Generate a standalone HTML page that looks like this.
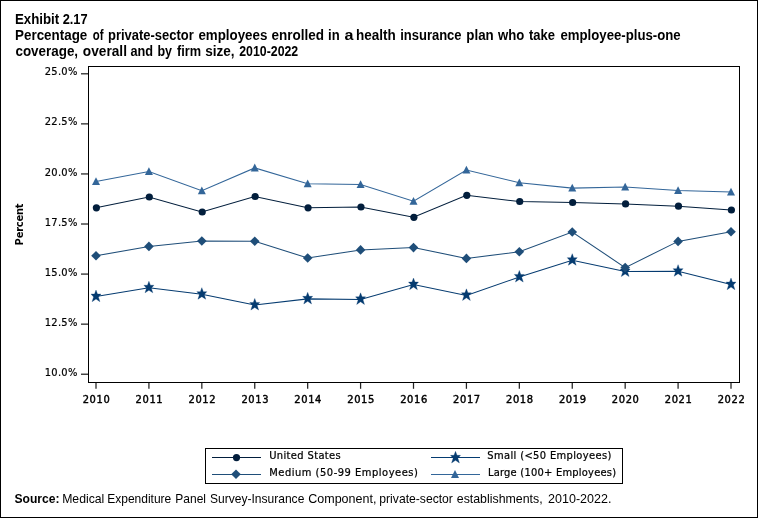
<!DOCTYPE html>
<html lang="en"><head><meta charset="utf-8"><title>Exhibit 2.17</title>
<style>
html,body{margin:0;padding:0;background:#fff}
body{width:758px;height:518px;position:relative;overflow:hidden;font-family:"Liberation Sans",sans-serif;color:#000}
.frame{position:absolute;left:0;top:0;width:756px;height:516px;border:1px solid #000}
svg text{fill:#000;font-kerning:none}
.tt{font:bold 14px "Liberation Sans",sans-serif}
.st{font:13px "Liberation Sans",sans-serif}
.yt{font:11px "DejaVu Sans Condensed","DejaVu Sans",sans-serif;letter-spacing:0.28px;stroke:#000;stroke-width:0.2px}
.xt{font:11px "DejaVu Sans Condensed","DejaVu Sans",sans-serif;letter-spacing:0.6px;stroke:#000;stroke-width:0.42px}
.yl{font:bold 11px "DejaVu Sans Condensed","DejaVu Sans",sans-serif;letter-spacing:-0.2px}
.lg{font:11px "DejaVu Sans Condensed","DejaVu Sans",sans-serif;stroke:#000;stroke-width:0.22px}
</style></head><body>
<div class="frame"></div>

<svg width="758" height="518" viewBox="0 0 758 518" style="position:absolute;left:0;top:0">
<rect x="88.5" y="66.5" width="651" height="316" fill="none" stroke="#000" stroke-width="1" shape-rendering="crispEdges"/>
<line x1="81" y1="73.80" x2="88" y2="73.80" stroke="#222" stroke-width="1.25"/>
<text x="77.6" y="75" text-anchor="end" class="yt">25.0%</text>
<line x1="81" y1="123.87" x2="88" y2="123.87" stroke="#222" stroke-width="1.25"/>
<text x="77.6" y="125" text-anchor="end" class="yt">22.5%</text>
<line x1="81" y1="173.94" x2="88" y2="173.94" stroke="#222" stroke-width="1.25"/>
<text x="77.6" y="176" text-anchor="end" class="yt">20.0%</text>
<line x1="81" y1="224.01" x2="88" y2="224.01" stroke="#222" stroke-width="1.25"/>
<text x="77.6" y="226" text-anchor="end" class="yt">17.5%</text>
<line x1="81" y1="274.08" x2="88" y2="274.08" stroke="#222" stroke-width="1.25"/>
<text x="77.6" y="276" text-anchor="end" class="yt">15.0%</text>
<line x1="81" y1="324.15" x2="88" y2="324.15" stroke="#222" stroke-width="1.25"/>
<text x="77.6" y="326" text-anchor="end" class="yt">12.5%</text>
<line x1="81" y1="374.22" x2="88" y2="374.22" stroke="#222" stroke-width="1.25"/>
<text x="77.6" y="376" text-anchor="end" class="yt">10.0%</text>
<line x1="96.00" y1="383" x2="96.00" y2="388.8" stroke="#222" stroke-width="1.25"/>
<text x="96.50" y="402.8" text-anchor="middle" class="xt">2010</text>
<line x1="148.92" y1="383" x2="148.92" y2="388.8" stroke="#222" stroke-width="1.25"/>
<text x="149.42" y="402.8" text-anchor="middle" class="xt">2011</text>
<line x1="201.83" y1="383" x2="201.83" y2="388.8" stroke="#222" stroke-width="1.25"/>
<text x="202.33" y="402.8" text-anchor="middle" class="xt">2012</text>
<line x1="254.75" y1="383" x2="254.75" y2="388.8" stroke="#222" stroke-width="1.25"/>
<text x="255.25" y="402.8" text-anchor="middle" class="xt">2013</text>
<line x1="307.67" y1="383" x2="307.67" y2="388.8" stroke="#222" stroke-width="1.25"/>
<text x="308.17" y="402.8" text-anchor="middle" class="xt">2014</text>
<line x1="360.58" y1="383" x2="360.58" y2="388.8" stroke="#222" stroke-width="1.25"/>
<text x="361.08" y="402.8" text-anchor="middle" class="xt">2015</text>
<line x1="413.50" y1="383" x2="413.50" y2="388.8" stroke="#222" stroke-width="1.25"/>
<text x="414.00" y="402.8" text-anchor="middle" class="xt">2016</text>
<line x1="466.42" y1="383" x2="466.42" y2="388.8" stroke="#222" stroke-width="1.25"/>
<text x="466.92" y="402.8" text-anchor="middle" class="xt">2017</text>
<line x1="519.33" y1="383" x2="519.33" y2="388.8" stroke="#222" stroke-width="1.25"/>
<text x="519.83" y="402.8" text-anchor="middle" class="xt">2018</text>
<line x1="572.25" y1="383" x2="572.25" y2="388.8" stroke="#222" stroke-width="1.25"/>
<text x="572.75" y="402.8" text-anchor="middle" class="xt">2019</text>
<line x1="625.17" y1="383" x2="625.17" y2="388.8" stroke="#222" stroke-width="1.25"/>
<text x="625.67" y="402.8" text-anchor="middle" class="xt">2020</text>
<line x1="678.08" y1="383" x2="678.08" y2="388.8" stroke="#222" stroke-width="1.25"/>
<text x="678.58" y="402.8" text-anchor="middle" class="xt">2021</text>
<line x1="731.00" y1="383" x2="731.00" y2="388.8" stroke="#222" stroke-width="1.25"/>
<text x="731.50" y="402.8" text-anchor="middle" class="xt">2022</text>
<text transform="translate(23.3 224.5) rotate(-90)" text-anchor="middle" class="yl">Percent</text>
<polyline points="96.00,207.80 148.92,197.00 201.83,212.00 254.75,196.50 307.67,207.80 360.58,207.00 413.50,217.30 466.42,195.30 519.33,201.50 572.25,202.50 625.17,203.90 678.08,206.20 731.00,210.00" fill="none" stroke="#021E3C" stroke-width="1.05"/>
<circle cx="96.40" cy="207.80" r="3.6" fill="#021E3C"/>
<circle cx="149.32" cy="197.00" r="3.6" fill="#021E3C"/>
<circle cx="202.23" cy="212.00" r="3.6" fill="#021E3C"/>
<circle cx="255.15" cy="196.50" r="3.6" fill="#021E3C"/>
<circle cx="308.07" cy="207.80" r="3.6" fill="#021E3C"/>
<circle cx="360.98" cy="207.00" r="3.6" fill="#021E3C"/>
<circle cx="413.90" cy="217.30" r="3.6" fill="#021E3C"/>
<circle cx="466.82" cy="195.30" r="3.6" fill="#021E3C"/>
<circle cx="519.73" cy="201.50" r="3.6" fill="#021E3C"/>
<circle cx="572.65" cy="202.50" r="3.6" fill="#021E3C"/>
<circle cx="625.57" cy="203.90" r="3.6" fill="#021E3C"/>
<circle cx="678.48" cy="206.20" r="3.6" fill="#021E3C"/>
<circle cx="731.40" cy="210.00" r="3.6" fill="#021E3C"/>
<polyline points="96.00,296.60 148.92,287.80 201.83,294.20 254.75,305.00 307.67,298.90 360.58,299.40 413.50,284.60 466.42,295.40 519.33,277.00 572.25,260.20 625.17,271.55 678.08,271.20 731.00,284.60" fill="none" stroke="#053B70" stroke-width="1.05"/>
<path d="M96.00 290.05L97.50 294.05L101.00 294.05L98.40 296.95L99.90 301.65L96.00 299.05L92.10 301.65L93.60 296.95L91.00 294.05L94.50 294.05Z" fill="#053B70" stroke="#053B70" stroke-width="0.3" stroke-linejoin="miter"/>
<path d="M148.92 281.25L150.42 285.25L153.92 285.25L151.32 288.15L152.82 292.85L148.92 290.25L145.02 292.85L146.52 288.15L143.92 285.25L147.42 285.25Z" fill="#053B70" stroke="#053B70" stroke-width="0.3" stroke-linejoin="miter"/>
<path d="M201.83 287.65L203.33 291.65L206.83 291.65L204.23 294.55L205.73 299.25L201.83 296.65L197.93 299.25L199.43 294.55L196.83 291.65L200.33 291.65Z" fill="#053B70" stroke="#053B70" stroke-width="0.3" stroke-linejoin="miter"/>
<path d="M254.75 298.45L256.25 302.45L259.75 302.45L257.15 305.35L258.65 310.05L254.75 307.45L250.85 310.05L252.35 305.35L249.75 302.45L253.25 302.45Z" fill="#053B70" stroke="#053B70" stroke-width="0.3" stroke-linejoin="miter"/>
<path d="M307.67 292.35L309.17 296.35L312.67 296.35L310.07 299.25L311.57 303.95L307.67 301.35L303.77 303.95L305.27 299.25L302.67 296.35L306.17 296.35Z" fill="#053B70" stroke="#053B70" stroke-width="0.3" stroke-linejoin="miter"/>
<path d="M360.58 292.85L362.08 296.85L365.58 296.85L362.98 299.75L364.48 304.45L360.58 301.85L356.68 304.45L358.18 299.75L355.58 296.85L359.08 296.85Z" fill="#053B70" stroke="#053B70" stroke-width="0.3" stroke-linejoin="miter"/>
<path d="M413.50 278.05L415.00 282.05L418.50 282.05L415.90 284.95L417.40 289.65L413.50 287.05L409.60 289.65L411.10 284.95L408.50 282.05L412.00 282.05Z" fill="#053B70" stroke="#053B70" stroke-width="0.3" stroke-linejoin="miter"/>
<path d="M466.42 288.85L467.92 292.85L471.42 292.85L468.82 295.75L470.32 300.45L466.42 297.85L462.52 300.45L464.02 295.75L461.42 292.85L464.92 292.85Z" fill="#053B70" stroke="#053B70" stroke-width="0.3" stroke-linejoin="miter"/>
<path d="M519.33 270.45L520.83 274.45L524.33 274.45L521.73 277.35L523.23 282.05L519.33 279.45L515.43 282.05L516.93 277.35L514.33 274.45L517.83 274.45Z" fill="#053B70" stroke="#053B70" stroke-width="0.3" stroke-linejoin="miter"/>
<path d="M572.25 253.65L573.75 257.65L577.25 257.65L574.65 260.55L576.15 265.25L572.25 262.65L568.35 265.25L569.85 260.55L567.25 257.65L570.75 257.65Z" fill="#053B70" stroke="#053B70" stroke-width="0.3" stroke-linejoin="miter"/>
<path d="M625.17 265.00L626.67 269.00L630.17 269.00L627.57 271.90L629.07 276.60L625.17 274.00L621.27 276.60L622.77 271.90L620.17 269.00L623.67 269.00Z" fill="#053B70" stroke="#053B70" stroke-width="0.3" stroke-linejoin="miter"/>
<path d="M678.08 264.65L679.58 268.65L683.08 268.65L680.48 271.55L681.98 276.25L678.08 273.65L674.18 276.25L675.68 271.55L673.08 268.65L676.58 268.65Z" fill="#053B70" stroke="#053B70" stroke-width="0.3" stroke-linejoin="miter"/>
<path d="M731.00 278.05L732.50 282.05L736.00 282.05L733.40 284.95L734.90 289.65L731.00 287.05L727.10 289.65L728.60 284.95L726.00 282.05L729.50 282.05Z" fill="#053B70" stroke="#053B70" stroke-width="0.3" stroke-linejoin="miter"/>
<polyline points="96.00,255.80 148.92,246.40 201.83,241.00 254.75,241.20 307.67,258.00 360.58,249.90 413.50,247.60 466.42,258.40 519.33,251.80 572.25,232.00 625.17,267.60 678.08,241.40 731.00,231.80" fill="none" stroke="#1F4E79" stroke-width="1.05"/>
<path d="M96.00 251.00L100.80 255.80L96.00 260.60L91.20 255.80Z" fill="#1F4E79"/>
<path d="M148.92 241.60L153.72 246.40L148.92 251.20L144.12 246.40Z" fill="#1F4E79"/>
<path d="M201.83 236.20L206.63 241.00L201.83 245.80L197.03 241.00Z" fill="#1F4E79"/>
<path d="M254.75 236.40L259.55 241.20L254.75 246.00L249.95 241.20Z" fill="#1F4E79"/>
<path d="M307.67 253.20L312.47 258.00L307.67 262.80L302.87 258.00Z" fill="#1F4E79"/>
<path d="M360.58 245.10L365.38 249.90L360.58 254.70L355.78 249.90Z" fill="#1F4E79"/>
<path d="M413.50 242.80L418.30 247.60L413.50 252.40L408.70 247.60Z" fill="#1F4E79"/>
<path d="M466.42 253.60L471.22 258.40L466.42 263.20L461.62 258.40Z" fill="#1F4E79"/>
<path d="M519.33 247.00L524.13 251.80L519.33 256.60L514.53 251.80Z" fill="#1F4E79"/>
<path d="M572.25 227.20L577.05 232.00L572.25 236.80L567.45 232.00Z" fill="#1F4E79"/>
<path d="M625.17 262.80L629.97 267.60L625.17 272.40L620.37 267.60Z" fill="#1F4E79"/>
<path d="M678.08 236.60L682.88 241.40L678.08 246.20L673.28 241.40Z" fill="#1F4E79"/>
<path d="M731.00 227.00L735.80 231.80L731.00 236.60L726.20 231.80Z" fill="#1F4E79"/>
<polyline points="96.00,181.60 148.92,171.50 201.83,190.70 254.75,167.90 307.67,183.70 360.58,184.50 413.50,201.30 466.42,170.10 519.33,182.80 572.25,188.10 625.17,187.10 678.08,190.60 731.00,192.10" fill="none" stroke="#336699" stroke-width="1.05"/>
<path d="M96.00 177.30L100.00 185.10L92.00 185.10Z" fill="#336699"/>
<path d="M148.92 167.20L152.92 175.00L144.92 175.00Z" fill="#336699"/>
<path d="M201.83 186.40L205.83 194.20L197.83 194.20Z" fill="#336699"/>
<path d="M254.75 163.60L258.75 171.40L250.75 171.40Z" fill="#336699"/>
<path d="M307.67 179.40L311.67 187.20L303.67 187.20Z" fill="#336699"/>
<path d="M360.58 180.20L364.58 188.00L356.58 188.00Z" fill="#336699"/>
<path d="M413.50 197.00L417.50 204.80L409.50 204.80Z" fill="#336699"/>
<path d="M466.42 165.80L470.42 173.60L462.42 173.60Z" fill="#336699"/>
<path d="M519.33 178.50L523.33 186.30L515.33 186.30Z" fill="#336699"/>
<path d="M572.25 183.80L576.25 191.60L568.25 191.60Z" fill="#336699"/>
<path d="M625.17 182.80L629.17 190.60L621.17 190.60Z" fill="#336699"/>
<path d="M678.08 186.30L682.08 194.10L674.08 194.10Z" fill="#336699"/>
<path d="M731.00 187.80L735.00 195.60L727.00 195.60Z" fill="#336699"/>
<rect x="205.5" y="448.5" width="417" height="35" fill="#fff" stroke="#000" stroke-width="1" shape-rendering="crispEdges"/>
<line x1="212" y1="457.5" x2="261" y2="457.5" stroke="#021E3C" stroke-width="1"/><circle cx="236.50" cy="457.60" r="3.6" fill="#021E3C"/><text x="269.2" y="458.7" textLength="71.5" lengthAdjust="spacing" class="lg">United States</text>
<line x1="212" y1="474.5" x2="261" y2="474.5" stroke="#1F4E79" stroke-width="1"/><path d="M236.00 469.40L240.80 474.20L236.00 479.00L231.20 474.20Z" fill="#1F4E79"/><text x="269.2" y="475.8" textLength="148.6" lengthAdjust="spacing" class="lg">Medium (50-99 Employees)</text>
<line x1="431" y1="457.5" x2="480" y2="457.5" stroke="#053B70" stroke-width="1"/><path d="M455.50 451.35L457.00 455.35L460.50 455.35L457.90 458.25L459.40 462.95L455.50 460.35L451.60 462.95L453.10 458.25L450.50 455.35L454.00 455.35Z" fill="#053B70" stroke="#053B70" stroke-width="0.3" stroke-linejoin="miter"/><text x="487.3" y="458.7" textLength="124.0" lengthAdjust="spacing" class="lg">Small (&lt;50 Employees)</text>
<line x1="431" y1="474.5" x2="480" y2="474.5" stroke="#336699" stroke-width="1"/><path d="M455.00 470.10L459.00 477.90L451.00 477.90Z" fill="#336699"/><text x="487.9" y="475.8" textLength="128.2" lengthAdjust="spacing" class="lg">Large (100+ Employees)</text>
<text y="24" class="tt"><tspan x="14.91" textLength="44.25" lengthAdjust="spacingAndGlyphs">Exhibit</tspan> <tspan x="62.66" textLength="24.96" lengthAdjust="spacingAndGlyphs">2.17</tspan></text>
<text y="40" class="tt"><tspan x="15.1" textLength="72.15" lengthAdjust="spacingAndGlyphs">Percentage</tspan> <tspan x="92.76" textLength="10.72" lengthAdjust="spacingAndGlyphs">of</tspan> <tspan x="108.05" textLength="85.65" lengthAdjust="spacingAndGlyphs">private-sector</tspan> <tspan x="198.38" textLength="68.97" lengthAdjust="spacingAndGlyphs">employees</tspan> <tspan x="271.47" textLength="52.52" lengthAdjust="spacingAndGlyphs">enrolled</tspan> <tspan x="328.09" textLength="11.62" lengthAdjust="spacingAndGlyphs">in</tspan> <tspan x="344.43" textLength="8.97" lengthAdjust="spacingAndGlyphs">a</tspan> <tspan x="355.96" textLength="39.78" lengthAdjust="spacingAndGlyphs">health</tspan> <tspan x="400.19" textLength="61.35" lengthAdjust="spacingAndGlyphs">insurance</tspan> <tspan x="466.32" textLength="27.41" lengthAdjust="spacingAndGlyphs">plan</tspan> <tspan x="498.04" textLength="26.27" lengthAdjust="spacingAndGlyphs">who</tspan> <tspan x="529.04" textLength="26.0" lengthAdjust="spacingAndGlyphs">take</tspan> <tspan x="560.48" textLength="120.17" lengthAdjust="spacingAndGlyphs">employee-plus-one</tspan></text>
<text y="56" class="tt"><tspan x="15.48" textLength="62.62" lengthAdjust="spacingAndGlyphs">coverage,</tspan> <tspan x="82.87" textLength="44.1" lengthAdjust="spacingAndGlyphs">overall</tspan> <tspan x="130.53" textLength="22.61" lengthAdjust="spacingAndGlyphs">and</tspan> <tspan x="157.48" textLength="14.59" lengthAdjust="spacingAndGlyphs">by</tspan> <tspan x="176.98" textLength="24.11" lengthAdjust="spacingAndGlyphs">firm</tspan> <tspan x="205.22" textLength="29.38" lengthAdjust="spacingAndGlyphs">size,</tspan> <tspan x="239.27" textLength="58.92" lengthAdjust="spacingAndGlyphs">2010-2022</tspan></text>
<text y="503" class="st"><tspan x="14.45" textLength="45.11" lengthAdjust="spacingAndGlyphs" font-weight="bold">Source:</tspan> <tspan x="62.2" textLength="42.12" lengthAdjust="spacingAndGlyphs">Medical</tspan> <tspan x="107.22" textLength="64.02" lengthAdjust="spacingAndGlyphs">Expenditure</tspan> <tspan x="175.32" textLength="30.69" lengthAdjust="spacingAndGlyphs">Panel</tspan> <tspan x="210.05" textLength="94.28" lengthAdjust="spacingAndGlyphs">Survey-Insurance</tspan> <tspan x="308.26" textLength="68.16" lengthAdjust="spacingAndGlyphs">Component,</tspan> <tspan x="379.32" textLength="73.58" lengthAdjust="spacingAndGlyphs">private-sector</tspan> <tspan x="456.78" textLength="85.83" lengthAdjust="spacingAndGlyphs">establishments,</tspan> <tspan x="548.07" textLength="63.37" lengthAdjust="spacingAndGlyphs">2010-2022.</tspan></text>
</svg>

</body></html>
